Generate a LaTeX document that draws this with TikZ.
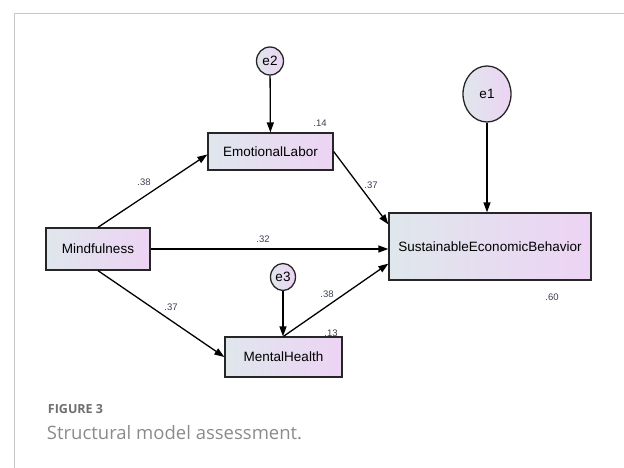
\documentclass[tikz,border=0pt]{standalone}
\usepackage{fontspec}
\setmainfont{Liberation Sans}
\newfontfamily\captionfont{Open Sans}
\usepackage{xcolor}
\usetikzlibrary{arrows.meta,shapes.geometric}
\definecolor{boxleft}{HTML}{DFE7EC}
\definecolor{boxright}{HTML}{EDD3F4}
\definecolor{estcol}{HTML}{3A4050}
\definecolor{framecol}{HTML}{C8C8C8}
\definecolor{capcol}{HTML}{6E6E6E}
\tikzset{every picture/.style={>={Triangle[length=10pt,width=7pt]},line width=1.3pt}}
\tikzstyle{observed} =
  [ rectangle
  , draw=black!85
  , left color=boxleft
  , right color=boxright
  , text=black
  , font=\fontsize{13.5}{15}\selectfont
  , inner sep=0pt
  ]
\tikzstyle{error} =
  [ ellipse
  , draw=black!85
  , left color=boxleft
  , right color=boxright
  , text=black
  , font=\fontsize{13.5}{15}\selectfont
  , inner sep=0pt
  ]
\tikzstyle{estimate} =
  [ font=\fontsize{9.5}{11}\selectfont
  , text=estcol
  , inner sep=0pt
  ]
\def\FigTitle{\fontsize{12.5}{14}\selectfont\bfseries FIGURE 3}
\def\FigCaption{\fontsize{18.5}{21}\selectfont Structural model assessment.}

\begin{document}
\begin{tikzpicture}[x=1pt,y=-1pt]
    \useasboundingbox (0,0) rectangle (624,468);
    \draw[framecol,line width=1pt] (14,468) -- (14,14) -- (624,14);

    \node[observed,minimum width=125pt,minimum height=37pt] (emotional_labor) at (270.5,151.5) {EmotionalLabor};
    \node[observed,minimum width=104pt,minimum height=42pt] (mindfulness)     at (98,249)      {Mindfulness};
    \node[observed,minimum width=202pt,minimum height=67pt] (sustainable_eb)  at (490,246.5)   {SustainableEconomicBehavior};
    \node[observed,minimum width=117pt,minimum height=40pt] (mental_health)   at (283.5,357)   {MentalHealth};

    \node[error,minimum width=27pt,minimum height=28pt] (e2) at (270,61)  {e2};
    \node[error,minimum width=48pt,minimum height=56pt] (e1) at (487,94)  {e1};
    \node[error,minimum width=25pt,minimum height=27pt] (e3) at (283,277) {e3};

    \draw[->] (e2) -- (emotional_labor);
    \draw[->] (e1) -- (e1 |- sustainable_eb.north);
    \draw[->] (e3) -- (e3 |- mental_health.north);
    \draw[->] (mindfulness.north) -- ([yshift=-3pt]emotional_labor.west);
    \draw[->] (emotional_labor.east) -- ([yshift=-12pt]sustainable_eb.north west);
    \draw[->] (mindfulness.east) -- (mindfulness.east -| sustainable_eb.west);
    \draw[->] (mindfulness.south) -- (mental_health.west);
    \draw[->] (mental_health.north) -- ([yshift=17pt]sustainable_eb.south west);

    \node[estimate] (r2_emotional)   at (320,123) {.14};
    \node[estimate] (r2_sustainable) at (552,297) {.60};
    \node[estimate] (r2_mental)      at (331,333) {.13};
    \node[estimate] (mf_el)          at (144,182) {.38};
    \node[estimate] (el_seb)         at (371,185) {.37};
    \node[estimate] (mf_seb)         at (263,239) {.32};
    \node[estimate] (mh_seb)         at (327,294) {.38};
    \node[estimate] (mf_mh)          at (171,307) {.37};

    \node[anchor=west,text=capcol,font=\captionfont] (fig_title)   at (44,409) {\FigTitle};
    \node[anchor=west,text=capcol!80,font=\captionfont] (fig_caption) at (43,433) {\FigCaption};
\end{tikzpicture}
\end{document}
